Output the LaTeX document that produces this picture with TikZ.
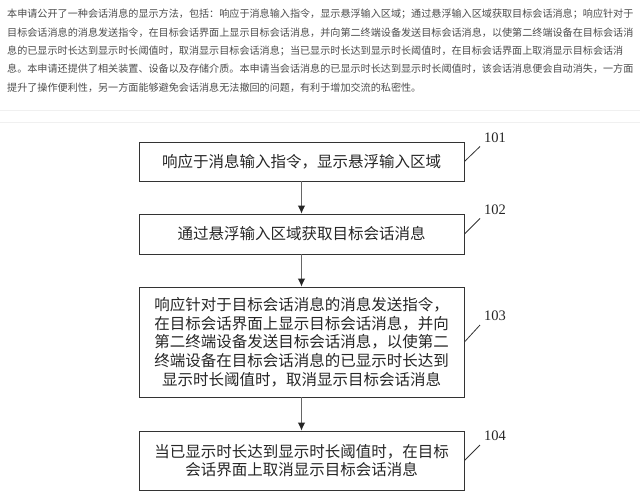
\documentclass[tikz,border=0pt]{standalone}
\usepackage{fontspec}
\setmainfont{Liberation Serif}
\newfontfamily\cjk{Noto Sans CJK SC}
\usepackage{tikz}
\usetikzlibrary{shapes,arrows.meta}
\tikzset{
 stepbox/.style={draw=black!80, line width=0.9pt, minimum width=325pt, inner sep=0pt, align=center, text=black!85, font=\cjk\fontsize{15.5}{18.7}\selectfont},
 steplbl/.style={anchor=south west, inner sep=4pt, text=black!85, font=\fontsize{14.5}{16}\selectfont},
 abstxt/.style={anchor=west, inner sep=0pt, text=black!70, font=\cjk\fontsize{10.1}{12}\selectfont},
 steparrow/.style={-{Latex[length=8pt,width=7.5pt,color=black!85]}, black!60, line width=0.9pt}
}
\begin{document}
\begin{tikzpicture} [x=1pt,y=-1pt]
\useasboundingbox (0,0) rectangle (640,501);
% abstract
 \node [abstxt] (p1) at (7,14) {本申请公开了一种会话消息的显示方法，包括：响应于消息输入指令，显示悬浮输入区域；通过悬浮输入区域获取目标会话消息；响应针对于};
 \node [abstxt] (p2) at (7,32.3) {目标会话消息的消息发送指令，在目标会话界面上显示目标会话消息，并向第二终端设备发送目标会话消息，以使第二终端设备在目标会话消};
 \node [abstxt] (p3) at (7,50.6) {息的已显示时长达到显示时长阈值时，取消显示目标会话消息；当已显示时长达到显示时长阈值时，在目标会话界面上取消显示目标会话消};
 \node [abstxt] (p4) at (7,69) {息。本申请还提供了相关装置、设备以及存储介质。本申请当会话消息的已显示时长达到显示时长阈值时，该会话消息便会自动消失，一方面};
 \node [abstxt] (p5) at (7,87.3) {提升了操作便利性，另一方面能够避免会话消息无法撤回的问题，有利于增加交流的私密性。};
\draw [black!6, line width=1pt] (0,110) -- (640,110);
\draw [black!6, line width=1pt] (0,122) -- (640,122);
% flow
 \node [stepbox, minimum height=39pt] (b1) at (301.5,161.5) {响应于消息输入指令，显示悬浮输入区域};
 \node [stepbox, minimum height=40pt] (b2) at (301.5,234) {通过悬浮输入区域获取目标会话消息};
 \node [stepbox, minimum height=110pt] (b3) at (301.5,342) {响应针对于目标会话消息的消息发送指令，\\在目标会话界面上显示目标会话消息，并向\\第二终端设备发送目标会话消息，以使第二\\终端设备在目标会话消息的已显示时长达到\\显示时长阈值时，取消显示目标会话消息};
 \node [stepbox, minimum height=59pt] (b4) at (301.5,460.5) {当已显示时长达到显示时长阈值时，在目标\\会话界面上取消显示目标会话消息};
\draw [steparrow](b1) -- (b2);
\draw [steparrow](b2) -- (b3);
\draw [steparrow](b3) -- (b4);
% step numbers
 \node [steplbl] (l1) at (480,146.5) {101};
 \node [steplbl] (l2) at (480,218.5) {102};
 \node [steplbl] (l3) at (480,325) {103};
 \node [steplbl] (l4) at (480,445) {104};
\draw [black!80, line width=0.8pt](b1.east) -- (l1.south west);
\draw [black!80, line width=0.8pt](b2.east) -- (l2.south west);
\draw [black!80, line width=0.8pt](b3.east) -- (l3.south west);
\draw [black!80, line width=0.8pt](b4.east) -- (l4.south west);
\end{tikzpicture}
\end{document}
